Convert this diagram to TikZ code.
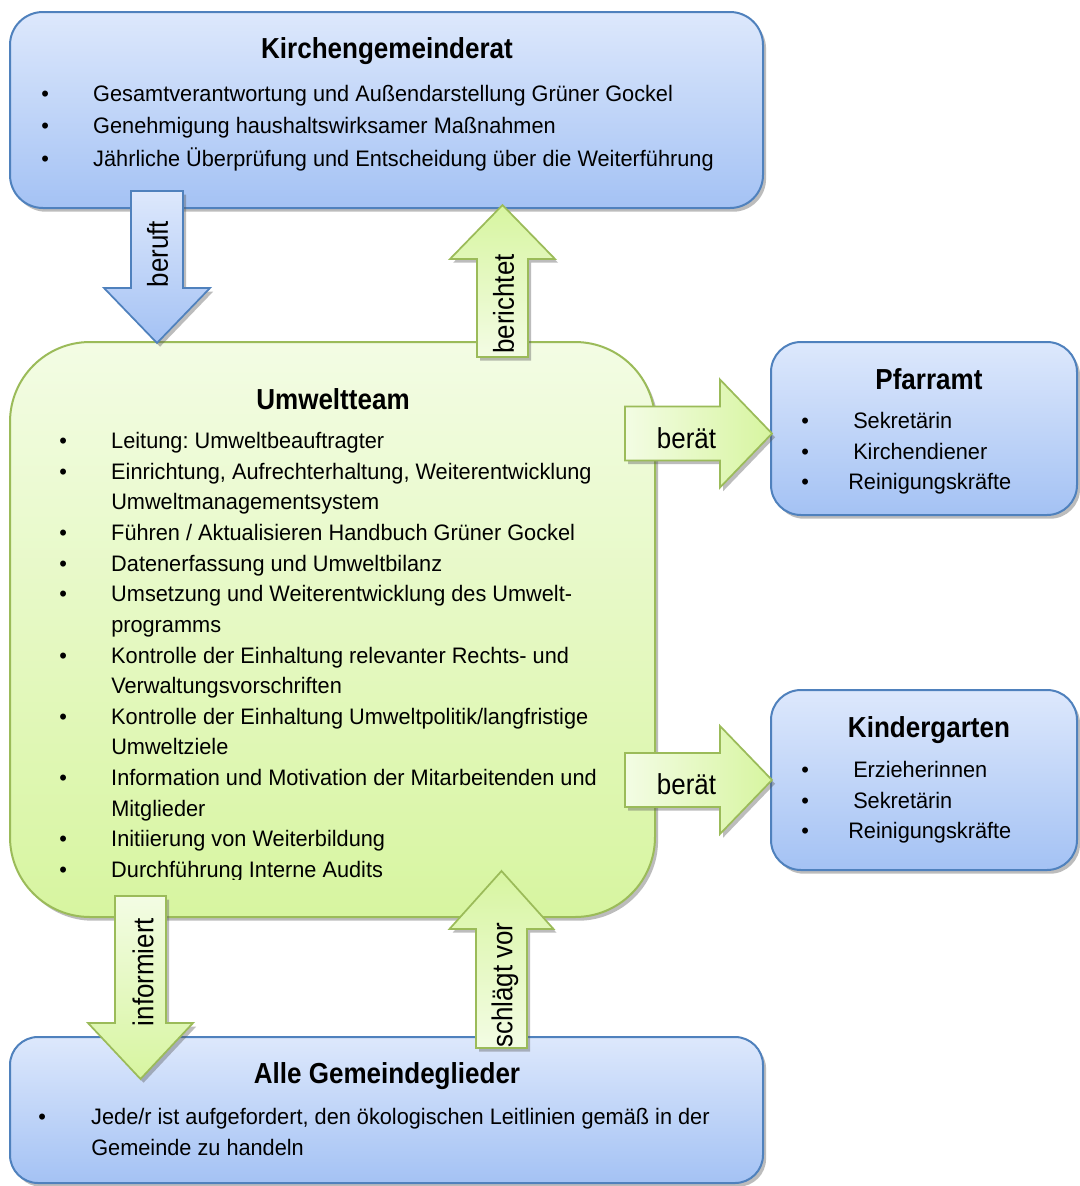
\documentclass[tikz,border=0pt]{standalone}
\usepackage{fontspec}
\setmainfont[FakeStretch=0.97]{Liberation Sans}
\newfontfamily\condfont[FakeStretch=0.9]{Liberation Sans}
\usetikzlibrary{shadows}
\frenchspacing
\definecolor{bluetop}{HTML}{DDE8FC}
\definecolor{bluebot}{HTML}{A4C2F4}
\definecolor{blueline}{HTML}{4F81BD}
\definecolor{greentop}{HTML}{F3FCE4}
\definecolor{greenbot}{HTML}{D7F5A0}
\definecolor{greenline}{HTML}{9BBB59}
\tikzset{
  shad/.style={drop shadow={shadow xshift=2.3pt, shadow yshift=-2.8pt, opacity=0.4, fill=black!65}},
  box/.style={shape=rectangle, inner sep=0pt, outer sep=0pt, line width=1.5pt, shad},
  bluebox/.style={box, draw=blueline, top color=bluetop, bottom color=bluebot},
  greenbox/.style={box, draw=greenline, top color=greentop, bottom color=greenbot},
  arr/.style={line width=1.3pt, line join=miter, shad},
  garrR/.style={arr, draw=greenline, left color=greentop, right color=greenbot},
  garrD/.style={arr, draw=greenline, top color=greentop, bottom color=greenbot},
  garrU/.style={arr, draw=greenline, top color=greenbot, bottom color=greentop},
  barrD/.style={arr, draw=blueline, top color=bluetop, bottom color=bluebot},
  lbl/.style={font=\condfont\fontsize{21.6pt}{24pt}\selectfont, inner sep=0pt},
  ttl/.style={font=\condfont\fontsize{21.7pt}{24pt}\selectfont\bfseries, inner sep=0pt},
  body/.style={font=\fontsize{16.8pt}{19pt}\selectfont\frenchspacing, inner sep=0pt, anchor=base west}
}
\newcommand{\bul}[1]{\makebox[#1][l]{\textbullet}}
\begin{document}
\begin{tikzpicture}[x=0.75pt,y=-0.75pt]
\useasboundingbox (0,0) rectangle (1079,1186);
\fill[white] (0,0) rectangle (1079,1186);

% ---------- boxes ----------
\node[bluebox, rounded corners=24.75pt, minimum width=564.75pt, minimum height=147pt] (kgr) at (386.5,110) {};
\node[greenbox, rounded corners=60pt, minimum width=483.75pt, minimum height=431.25pt] (ut) at (332.5,629.5) {};
\node[bluebox, rounded corners=22.5pt, minimum width=229.5pt, minimum height=129.75pt] (pf) at (924,428.5) {};
\node[bluebox, rounded corners=22.5pt, minimum width=229.5pt, minimum height=135pt] (kg) at (924,780) {};
\node[bluebox, rounded corners=21pt, minimum width=564.75pt, minimum height=109.5pt] (alle) at (386.5,1110) {};

% ---------- Kirchengemeinderat ----------
\node[ttl] (kgrT) at (387,51) {Kirchengemeinderat};
\node[body] (kgr1) at (41.2,101) {\bul{38.85pt}Gesamtverantwortung und Außendarstellung Grüner Gockel};
\node[body] (kgr2) at (41.2,133.5) {\bul{38.85pt}Genehmigung haushaltswirksamer Maßnahmen};
\node[body] (kgr3) at (41.2,166) {\bul{38.85pt}Jährliche Überprüfung und Entscheidung über die Weiterführung};

% ---------- Umweltteam ----------
\node[ttl] (utT) at (333,399) {Umweltteam};
\node[body] (ut1) at (59.2,448.5) {\bul{38.85pt}Leitung: Umweltbeauftragter};
\node[body] (ut2) at (59.2,479.1) {\bul{38.85pt}Einrichtung, Aufrechterhaltung, Weiterentwicklung};
\node[body] (ut3) at (111,509.8) {Umweltmanagementsystem};
\node[body] (ut4) at (59.2,540.4) {\bul{38.85pt}Führen / Aktualisieren Handbuch Grüner Gockel};
\node[body] (ut5) at (59.2,571.1) {\bul{38.85pt}Datenerfassung und Umweltbilanz};
\node[body] (ut6) at (59.2,601.7) {\bul{38.85pt}Umsetzung und Weiterentwicklung des Umwelt-};
\node[body] (ut7) at (111,632.3) {programms};
\node[body] (ut8) at (59.2,663.0) {\bul{38.85pt}Kontrolle der Einhaltung relevanter Rechts- und};
\node[body] (ut9) at (111,693.6) {Verwaltungsvorschriften};
\node[body] (ut10) at (59.2,724.3) {\bul{38.85pt}Kontrolle der Einhaltung Umweltpolitik/langfristige};
\node[body] (ut11) at (111,754.9) {Umweltziele};
\node[body] (ut12) at (59.2,785.5) {\bul{38.85pt}Information und Motivation der Mitarbeitenden und};
\node[body] (ut13) at (111,816.2) {Mitglieder};
\node[body] (ut14) at (59.2,846.8) {\bul{38.85pt}Initiierung von Weiterbildung};
\begin{scope}
\clip (0,840) rectangle (655,879.5);
\node[body] (ut15) at (59.2,877.4) {\bul{38.85pt}Durchführung Interne Audits};
\end{scope}

% ---------- Pfarramt ----------
\node[ttl] (pfT) at (929,379) {Pfarramt};
\node[body] (pf1) at (801.2,428.5) {\bul{38.85pt}Sekretärin};
\node[body] (pf2) at (801.2,459) {\bul{38.85pt}Kirchendiener};
\node[body] (pf3) at (801.2,489.5) {\bul{35.1pt}Reinigungskräfte};

% ---------- Kindergarten ----------
\node[ttl] (kgT) at (929,730) {Kindergarten};
\node[body] (kg1) at (801.2,777.5) {\bul{38.85pt}Erzieherinnen};
\node[body] (kg2) at (801.2,808) {\bul{38.85pt}Sekretärin};
\node[body] (kg3) at (801.2,838.5) {\bul{35.1pt}Reinigungskräfte};

% ---------- Alle Gemeindeglieder ----------
\node[ttl] (alleT) at (387,1076) {Alle Gemeindeglieder};
\node[body] (alle1) at (38.2,1124.5) {\bul{39.6pt}Jede/r ist aufgefordert, den ökologischen Leitlinien gemäß in der};
\node[body] (alle2) at (91,1155) {Gemeinde zu handeln};

% ---------- block arrows ----------
% beruft (down, blue)
\path[barrD] (131,191) -- (183,191) -- (183,288) -- (210,288) -- (157,343)
  -- (104,288) -- (131,288) -- cycle;
\node[lbl, rotate=90] (aBeruft) at (157.5,254) {beruft};
% berichtet (up, green)
\path[garrU] (477,357) -- (528,357) -- (528,259) -- (555,259) -- (502.5,205)
  -- (450,259) -- (477,259) -- cycle;
\node[lbl, rotate=90] (aBericht) at (503.5,304) {berichtet};
% beraet 1 (right)
\path[garrR] (625,406.5) -- (720,406.5) -- (720,379.5) -- (772,433.5) -- (720,487.5)
  -- (720,460.5) -- (625,460.5) -- cycle;
\node[lbl] (aBerat1) at (686.5,438) {berät};
% beraet 2 (right)
\path[garrR] (625,753) -- (720,753) -- (720,726) -- (772,780) -- (720,834)
  -- (720,807) -- (625,807) -- cycle;
\node[lbl] (aBerat2) at (686.5,784) {berät};
% informiert (down)
\path[garrD] (115,896) -- (166,896) -- (166,1023) -- (193,1023) -- (140.5,1079)
  -- (88,1023) -- (115,1023) -- cycle;
\node[lbl, rotate=90] (aInf) at (143,972) {informiert};
% schlaegt vor (up)
\path[garrU] (476,1048) -- (527,1048) -- (527,929) -- (553.5,929) -- (501.5,871)
  -- (449.5,929) -- (476,929) -- cycle;
\node[lbl, rotate=90] (aSchl) at (505,985) {schlägt vor};
\end{tikzpicture}
\end{document}
